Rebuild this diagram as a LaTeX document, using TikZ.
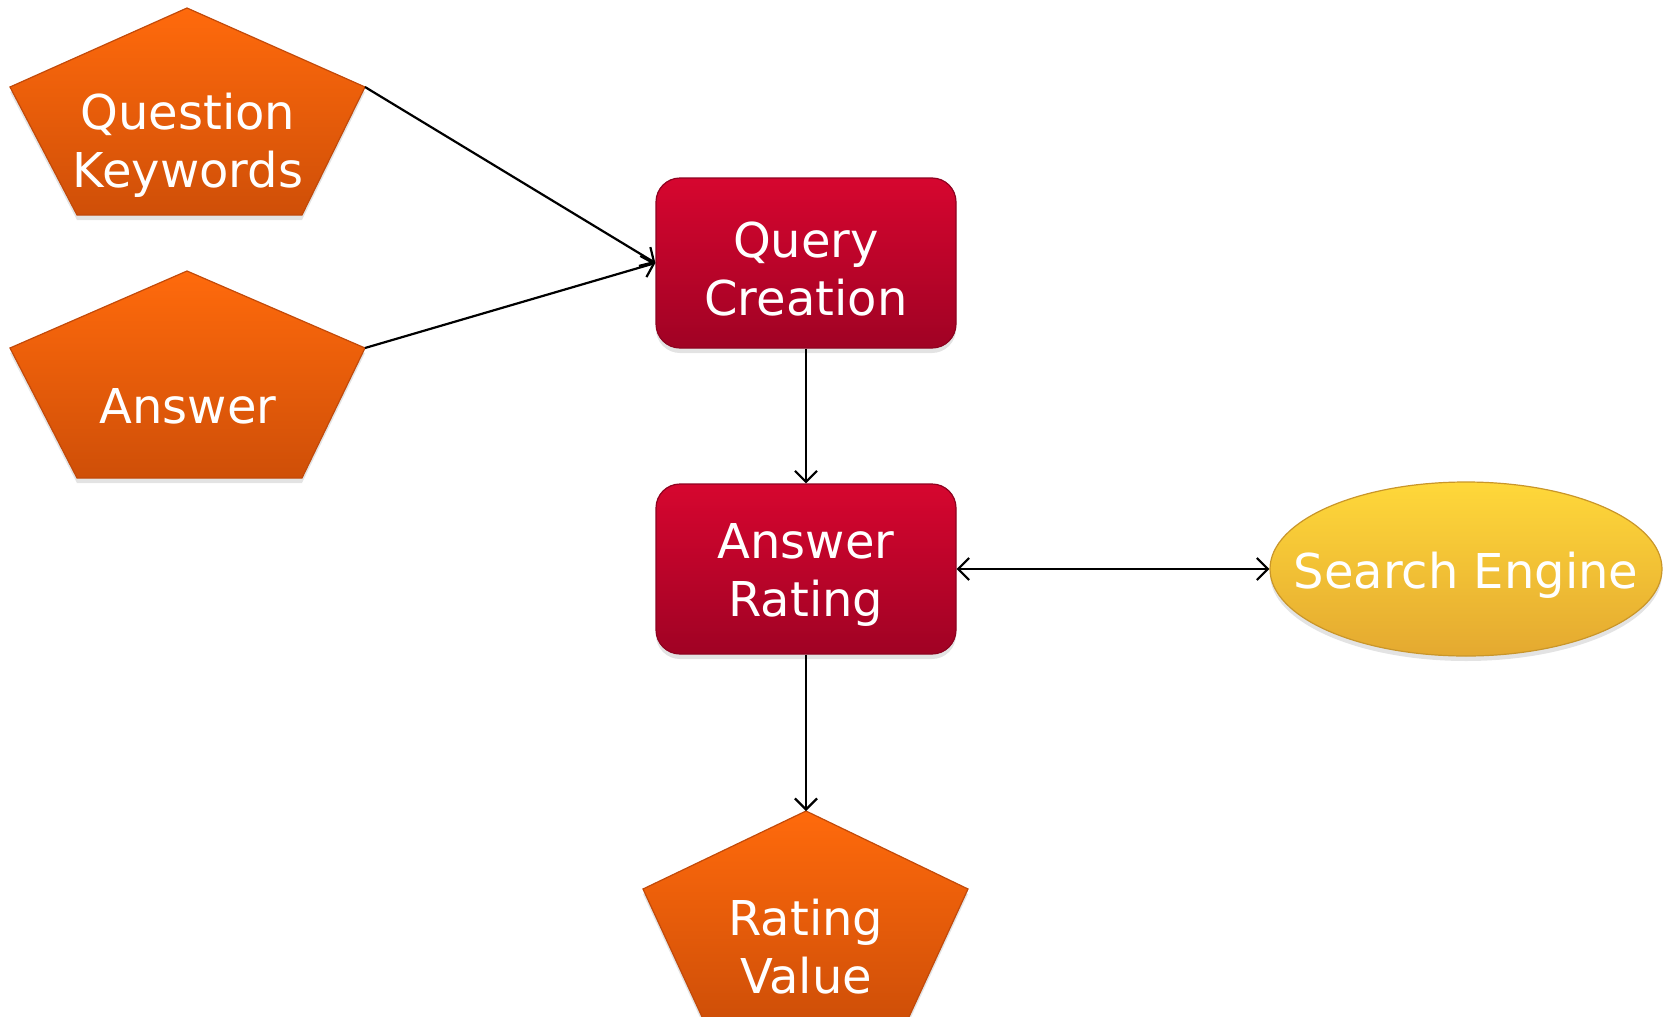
\documentclass[tikz,border=0pt]{standalone}
\usepackage{fontspec}
\setmainfont{DejaVu Sans}
\usetikzlibrary{arrows.meta,shapes.geometric,shadows}
\definecolor{orTop}{HTML}{FF6A0C}
\definecolor{orBot}{HTML}{CF4F08}
\definecolor{orEdge}{HTML}{C24A0A}
\definecolor{rdTop}{HTML}{D6062F}
\definecolor{rdBot}{HTML}{A00224}
\definecolor{rdEdge}{HTML}{8E0220}
\definecolor{yeTop}{HTML}{FFD83A}
\definecolor{yeBot}{HTML}{E4A930}
\definecolor{yeEdge}{HTML}{C9962A}
\begin{document}
\begin{tikzpicture}[x=0.5pt,y=-0.5pt,
  lbl/.style={text=white,font=\fontsize{24}{29}\selectfont,align=center,inner sep=0pt,yshift=-3pt},
  shad/.style={drop shadow={opacity=0.22,shadow xshift=0pt,shadow yshift=-2.5pt}},
  pent/.style={top color=orTop,bottom color=orBot,draw=orEdge,line width=0.6pt,shad},
  box/.style={rectangle,rounded corners=12pt,top color=rdTop,bottom color=rdBot,draw=rdEdge,line width=0.6pt,
    minimum width=150pt,minimum height=85pt,inner sep=0pt,shad},
  ell/.style={ellipse,top color=yeTop,bottom color=yeBot,draw=yeEdge,line width=0.6pt,
    minimum width=196pt,minimum height=87pt,inner sep=0pt,shad},
  conn/.style={line width=1.1pt,-{Straight Barb[length=5.5pt,width=11pt]}}
]
\useasboundingbox (0,0) rectangle (1665,1017);

% Question Keywords pentagon
\path[pent] (187,8) -- (365,87) -- (302,215) -- (77,215) -- (10,87) -- cycle;
\coordinate (qkR) at (365,87);
\node[lbl] (qk) at (188,139) {Question\\Keywords};

% Answer pentagon
\path[pent] (187,271) -- (365,348) -- (302,478) -- (77,478) -- (10,348) -- cycle;
\coordinate (anR) at (365,348);
\node[lbl] (an) at (188,400) {Answer};

% Rating Value pentagon
\path[pent] (806,811) -- (968,889) -- (908,1019) -- (703,1019) -- (643,889) -- cycle;
\coordinate (rvT) at (806,811);
\node[lbl] (rv) at (806,941) {Rating\\Value};

% boxes
\node[box] (qc) at (806,263) {};
\node[lbl] (qctext) at (qc.center) {Query\\Creation};
\node[box] (ar) at (806,569) {};
\node[lbl] (artext) at (ar.center) {Answer\\Rating};

% ellipse
\node[ell] (se) at (1466,569) {};
\node[lbl] (setext) at (se.center) {Search Engine};

% connectors
\draw[conn] (qkR) -- (qc.west);
\draw[conn] (anR) -- (qc.west);
\draw[conn] (qc.south) -- (ar.north);
\draw[conn,{Straight Barb[length=5.5pt,width=11pt]}-{Straight Barb[length=5.5pt,width=11pt]}] (ar.east) -- (se.west);
\draw[conn] (ar.south) -- (rvT);
\end{tikzpicture}
\end{document}
